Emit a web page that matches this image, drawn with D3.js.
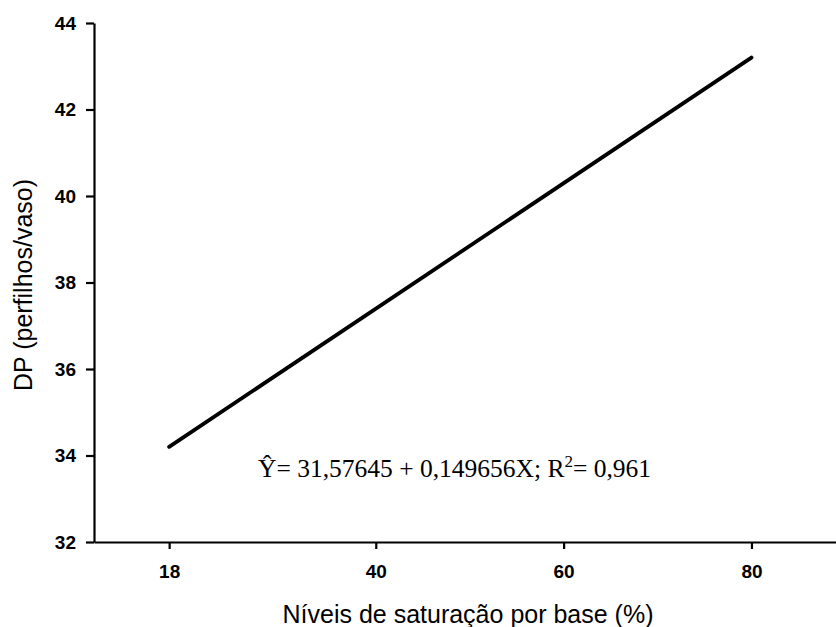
<!DOCTYPE html>
<html>
<head>
<meta charset="utf-8">
<script src="https://cdn.jsdelivr.net/npm/d3@7"></script>
<style>
  body { margin: 0; background: #fff; }
  svg { display: block; }
</style>
</head>
<body>
<div id="chart"></div>
<script>
// values
const lineX = [18, 80];
const lineY = [34.2, 43.2];
const xTicks = [18, 40, 60, 80];
const yTicks = [32, 34, 36, 38, 40, 42, 44];

const w = 836;
const h = 627;

const svg = d3.select('#chart')
    .append('svg')
    .attr('width', w)
    .attr('height', h);

const xScale = d3.scaleLinear()
    .domain([10, 89])
    .range([94, 836]);

const yScale = d3.scaleLinear()
    .domain([32, 44])
    .range([542, 23]);

const xAxis = d3.axisBottom(xScale)
    .tickValues(xTicks)
    .tickSizeInner(7)
    .tickSizeOuter(0)
    .tickPadding(16);

const yAxis = d3.axisLeft(yScale)
    .tickValues(yTicks)
    .tickSizeInner(8)
    .tickSizeOuter(0)
    .tickPadding(10);

const gx = svg.append('g')
    .attr('transform', 'translate(0,' + yScale(32) + ')')
    .call(xAxis);

const gy = svg.append('g')
    .attr('transform', 'translate(' + xScale(10) + ',0)')
    .call(yAxis);

[gx, gy].forEach(function (g) {
    g.selectAll('path, line')
        .attr('stroke', '#000')
        .attr('stroke-width', 2.2);
    g.selectAll('text')
        .attr('fill', '#000')
        .style('font-family', 'Liberation Sans, Arial, sans-serif')
        .style('font-size', '19px')
        .style('font-weight', 'bold');
});

const pts = lineX.map((x, i) => [x, lineY[i]]);

svg.append('path')
    .datum(pts)
    .attr('fill', 'none')
    .attr('stroke', '#000')
    .attr('stroke-width', 3.8)
    .attr('stroke-linecap', 'round')
    .attr('d', d3.line()
        .x((d) => xScale(d[0]))
        .y((d) => yScale(d[1])));

// equation
const eq = svg.append('text')
    .attr('x', 258)
    .attr('y', 477)
    .style('font-family', 'Liberation Serif, Times New Roman, serif')
    .style('font-size', '25.5px')
    .attr('fill', '#000');
eq.append('tspan').text('\u0176= 31,57645 + 0,149656X; R');
eq.append('tspan').attr('dy', -10).style('font-size', '17px').text('2');
eq.append('tspan').attr('dy', 10).text('= 0,961');

// axis titles
svg.append('text')
    .attr('x', 468)
    .attr('y', 623)
    .attr('text-anchor', 'middle')
    .style('font-family', 'Liberation Sans, Arial, sans-serif')
    .style('font-size', '25px')
    .text('Níveis de saturação por base (%)');

svg.append('text')
    .attr('transform', 'translate(32,285) rotate(-90)')
    .attr('text-anchor', 'middle')
    .style('font-family', 'Liberation Sans, Arial, sans-serif')
    .style('font-size', '25px')
    .text('DP (perfilhos/vaso)');
</script>
</body>
</html>
